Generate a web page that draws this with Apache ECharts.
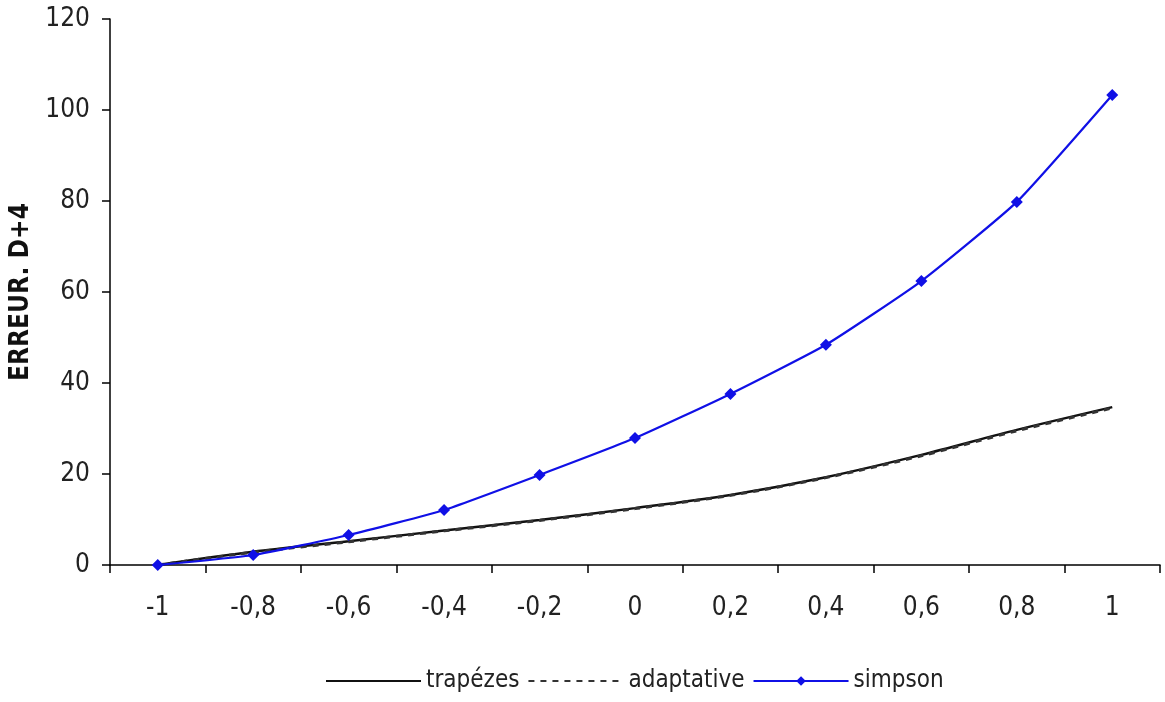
<!DOCTYPE html>
<html>
<head>
<meta charset="utf-8">
<script src="https://cdn.jsdelivr.net/npm/echarts@6/dist/echarts.min.js"></script>
<style>html,body{margin:0;padding:0;background:#fff;}#c{width:1165px;height:702px;}</style>
</head>
<body>
<div id="c"></div>
<script>
var categories = ['-1','-0,8','-0,6','-0,4','-0,2','0','0,2','0,4','0,6','0,8','1'];
var trapezes = [0, 2.9, 5.2, 7.6, 9.9, 12.5, 15.4, 19.3, 24.2, 29.7, 34.7];
var adaptative = [0, 2.8, 5.1, 7.5, 9.8, 12.4, 15.3, 19.2, 24.0, 29.5, 34.5];
var simpson = [0, 2.2, 6.6, 12.1, 19.8, 27.9, 37.6, 48.4, 62.4, 79.8, 103.3];

var font = '"Liberation Sans Narrow", "DejaVu Sans Condensed", "Liberation Sans", Arial, sans-serif';
var chart = echarts.init(document.getElementById('c'));
chart.setOption({
  animation: false,
  backgroundColor: '#fff',
  grid: {left: 110, right: 5, top: 19, bottom: 137, containLabel: false, outerBoundsMode: 'none'},
  legend: {
    bottom: 4,
    left: 320,
    itemWidth: 95,
    itemHeight: 12,
    itemGap: 8,
    textStyle: {fontFamily: font, fontSize: 24, color: '#222'},
    data: [
      {name: 'trapézes', itemStyle: {opacity: 0}},
      {name: 'adaptative', itemStyle: {opacity: 0}},
      {name: 'simpson'}
    ]
  },
  xAxis: {
    type: 'category',
    data: categories,
    boundaryGap: true,
    axisLine: {lineStyle: {color: '#000', width: 1.5}},
    axisTick: {show: true, length: 8, lineStyle: {color: '#000', width: 1.5}},
    axisLabel: {fontFamily: font, fontSize: 26, color: '#222', margin: 30},
    splitLine: {show: false}
  },
  yAxis: {
    type: 'value',
    min: 0, max: 120, interval: 20,
    name: 'ERREUR. D+4',
    nameLocation: 'middle',
    nameGap: 74,
    nameTextStyle: {fontFamily: font, fontSize: 26, fontWeight: 'bold', color: '#111'},
    axisLine: {show: true, lineStyle: {color: '#000', width: 1.5}},
    axisTick: {show: true, length: 8, lineStyle: {color: '#000', width: 1.5}},
    axisLabel: {fontFamily: font, fontSize: 26, color: '#222', margin: 20},
    splitLine: {show: false}
  },
  series: [
    {
      name: 'trapézes', type: 'line', data: trapezes, smooth: 0.3,
      symbol: 'none', lineStyle: {color: '#111', width: 2.5}, itemStyle: {color: '#111'}
    },
    {
      name: 'adaptative', type: 'line', data: adaptative, smooth: 0.3,
      symbol: 'none', lineStyle: {color: '#333', width: 3, type: [6, 6]}, itemStyle: {color: '#333'}
    },
    {
      name: 'simpson', type: 'line', data: simpson, smooth: 0.15,
      symbol: 'diamond', symbolSize: 12,
      lineStyle: {color: '#1010e6', width: 2.2}, itemStyle: {color: '#1010e6'}
    }
  ]
});
</script>
</body>
</html>
